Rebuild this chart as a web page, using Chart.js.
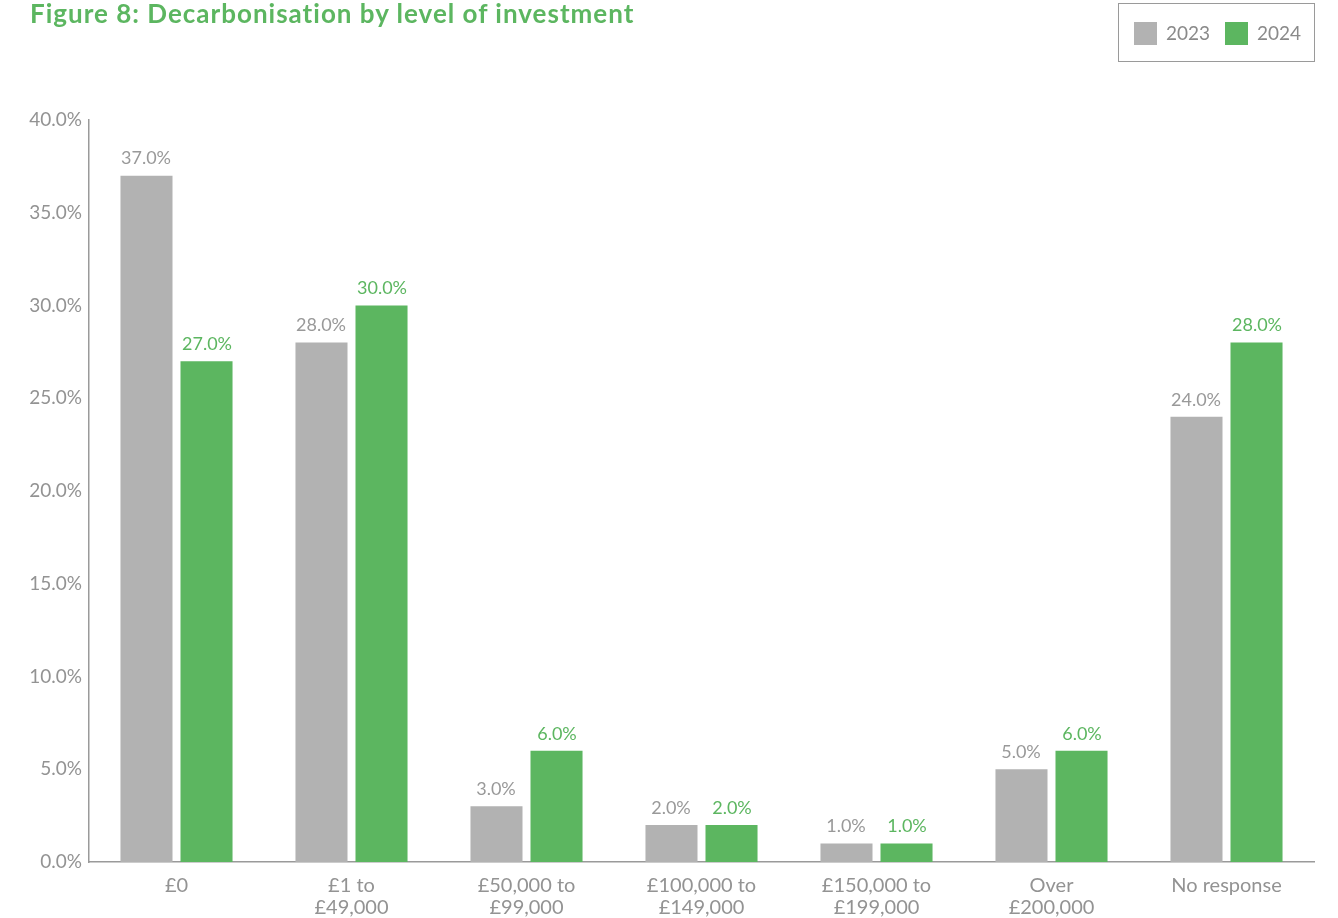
<!DOCTYPE html>
<html>
<head>
<meta charset="utf-8">
<script src="https://cdn.jsdelivr.net/npm/chart.js@4"></script>
<style>
  html, body { margin: 0; padding: 0; background: #fff; }
  #wrap { position: relative; width: 1338px; height: 918px; }
  #title {
    position: absolute; left: 30px; top: -3px;
    font-family: Lato, sans-serif; font-weight: bold; font-size: 26px; letter-spacing: 1px;
    color: #5cb660; white-space: nowrap;
  }
  #legend {
    position: absolute; left: 1118px; top: 3px; width: 197px; height: 59px;
    border: 1.5px solid #9a9a9a; box-sizing: border-box;
    font-family: Lato, sans-serif; font-size: 19px; color: #8a8a8a;
  }
  #legend span.sw { position: absolute; top: 18px; width: 23px; height: 23px; }
  #legend span.lb { position: absolute; top: 17px; }
</style>
</head>
<body>
<div id="wrap">
  <canvas id="chart" width="1338" height="918"></canvas>
  <div id="title">Figure 8: Decarbonisation by level of investment</div>
  <div id="legend"></div>
</div>
<script>
const categories = [['£0'], ['£1 to', '£49,000'], ['£50,000 to', '£99,000'], ['£100,000 to', '£149,000'],
  ['£150,000 to', '£199,000'], ['Over', '£200,000'], ['No response']];
const values2023 = [37, 28, 3, 2, 1, 5, 24];
const values2024 = [27, 30, 6, 2, 1, 6, 28];
const yTicks = [0, 5, 10, 15, 20, 25, 30, 35, 40];

const GREY = '#b2b2b2';
const GREEN = '#5cb660';
const TEXT = '#939393';
const FONT = 'Lato, sans-serif';

/* legend in its box */
const legend = document.getElementById('legend');
[['2023', GREY, 15], ['2024', GREEN, 106]].forEach(([label, color, x]) => {
    legend.innerHTML += `<span class="sw" style="left:${x}px;background:${color}"></span>` +
        `<span class="lb" style="left:${x + 32}px">${label}</span>`;
});

/* value labels above each bar */
const barLabels = {
    id: 'barLabels',
    afterDatasetsDraw(chart) {
        const ctx = chart.ctx;
        ctx.save();
        ctx.font = '18px ' + FONT;
        ctx.textAlign = 'center';
        ctx.textBaseline = 'bottom';
        chart.data.datasets.forEach((ds, i) => {
            ctx.fillStyle = i === 0 ? '#999999' : GREEN;
            chart.getDatasetMeta(i).data.forEach((bar, j) => {
                ctx.fillText(ds.data[j].toFixed(1) + '%', Math.round(bar.x), bar.y - 8);
            });
        });
        ctx.restore();
    }
};

new Chart(document.getElementById('chart'), {
    type: 'bar',
    data: {
        labels: categories,
        datasets: [
            { label: '2023', data: values2023, backgroundColor: GREY },
            { label: '2024', data: values2024, backgroundColor: GREEN }
        ]
    },
    options: {
        responsive: false,
        animation: false,
        layout: { padding: { top: 120, right: 24, left: 0, bottom: 0 } },
        categoryPercentage: 0.686,
        barPercentage: 0.867,
        plugins: {
            legend: { display: false },
            tooltip: { enabled: false }
        },
        scales: {
            x: {
                grid: { display: false, drawTicks: false },
                border: { color: '#9a9a9a', width: 1.5 },
                ticks: { color: TEXT, font: { family: FONT, size: 20, lineHeight: 1.1 }, padding: 13, maxRotation: 0 },
                afterFit(scale) { scale.height = 56; }
            },
            y: {
                min: 0, max: 40,
                grid: { display: false, drawTicks: false },
                border: { color: '#9a9a9a', width: 1.5 },
                afterBuildTicks(scale) { scale.ticks = yTicks.map(v => ({ value: v })); },
                ticks: {
                    color: TEXT, font: { family: FONT, size: 19 }, padding: 7,
                    callback: v => v.toFixed(1) + '%'
                },
                afterFit(scale) { scale.width = 89; }
            }
        }
    },
    plugins: [barLabels]
});
</script>
</body>
</html>
